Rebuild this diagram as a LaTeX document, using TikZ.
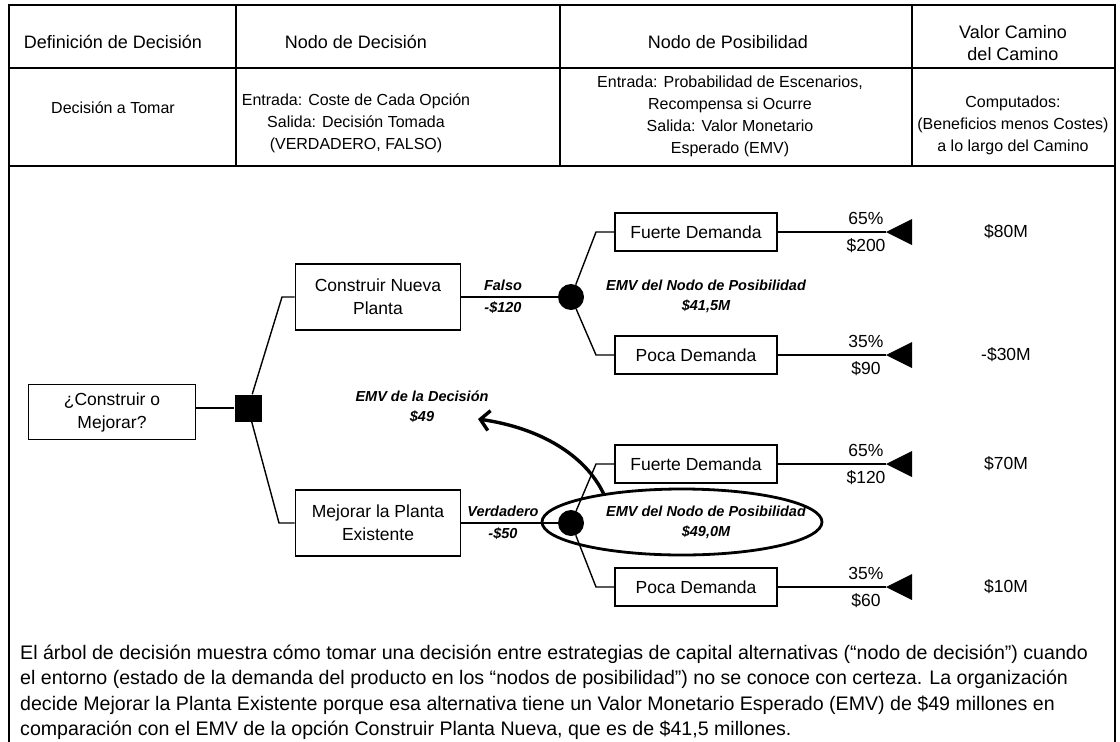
\documentclass[tikz,border=0pt]{standalone}
\usepackage{fontspec}
\setmainfont{Liberation Sans}
\usetikzlibrary{shapes.geometric,arrows.meta}

\newcommand\payofftri[1]{\fill (#1) -- ++(26,-13) -- ++(0,26) -- cycle;}

\begin{document}
\begin{tikzpicture}[x=1pt,y=-1pt,
  rule/.style={line width=2.4pt},
  cell/.style={font=\fontsize{18}{22.5}\selectfont, align=center, inner sep=0pt},
  subcell/.style={cell, font=\fontsize{16}{22}\selectfont},
  stepbox/.style={draw, line width=1.7pt, font=\fontsize{17.5}{23}\selectfont, align=center, inner sep=2pt},
  choice/.style={stepbox, minimum width=165pt, minimum height=66pt},
  outcome/.style={stepbox, minimum width=162pt, minimum height=38pt},
  decnode/.style={fill, minimum size=27pt, inner sep=0pt},
  chancenode/.style={circle, fill, minimum size=26pt, inner sep=0pt},
  link/.style={line width=1.4pt},
  lbl/.style={font=\bfseries\itshape\fontsize{14.5}{20}\selectfont, align=center, inner sep=0pt},
  val/.style={font=\fontsize{17.5}{20}\selectfont, inner sep=0pt},
]
\useasboundingbox (0,0) rectangle (1120,742);

% table frame and the open frame below it
\draw[rule] (9,742) -- (9,5) -- (1115,5) -- (1115,742);
\draw[rule] (9,68) -- (1115,68);
\draw[rule] (9,166) -- (1115,166);
\foreach \x in {236,560,912} \draw[rule] (\x,5) -- (\x,166);

% header cells
\node[cell] (h1) at (113,42) {Definición de Decisión};
\node[cell] (h2) at (356,42) {Nodo de Decisión};
\node[cell] (h3) at (728,42) {Nodo de Posibilidad};
\node[cell] (h4) at (1013,43) {Valor Camino\\del Camino};
\node[subcell] (r1) at (113,108) {Decisión a Tomar};
\node[subcell] (r2) at (356,123) {Entrada: Coste de Cada Opción\\Salida: Decisión Tomada\\(VERDADERO, FALSO)};
\node[subcell] (r3) at (730,116) {Entrada: Probabilidad de Escenarios,\\Recompensa si Ocurre\\Salida: Valor Monetario\\Esperado (EMV)};
\node[subcell] (r4) at (1013,125) {Computados:\\(Beneficios menos Costes)\\a lo largo del Camino};

% tree nodes
\node[choice, minimum width=167pt, minimum height=55pt] (root) at (112,412) {¿Construir o\\Mejorar?};
\node[decnode] (sq) at (248,408) {};
\node[choice] (build) at (378,297) {Construir Nueva\\Planta};
\node[choice] (improve) at (378,523) {Mejorar la Planta\\Existente};
\node[chancenode] (c1) at (571,297) {};
\node[chancenode] (c2) at (571,523) {};
\node[outcome] (f1) at (696,232) {Fuerte Demanda};
\node[outcome] (p1) at (696,355) {Poca Demanda};
\node[outcome] (f2) at (696,464) {Fuerte Demanda};
\node[outcome] (p2) at (696,587) {Poca Demanda};

% elbows and branch ends
\coordinate (eb) at (282,297);
\coordinate (ei) at (279,523);
\coordinate (ef1) at (596,232);
\coordinate (ep1) at (596,355);
\coordinate (ef2) at (596,464);
\coordinate (ep2) at (596,587);
\coordinate (t1) at (886,232);
\coordinate (t2) at (886,355);
\coordinate (t3) at (886,464);
\coordinate (t4) at (886,587);

% connectors
\draw[link] (sq.west -| root.east) -- (sq.west);
\draw[link] (sq) -- (eb) -- (build.west);
\draw[link] (sq) -- (ei) -- (improve.west);
\draw[link] (build.east) -- (c1);
\draw[link] (improve.east) -- (c2);
\draw[link] (c1) -- (ef1) -- (f1.west);
\draw[link] (c1) -- (ep1) -- (p1.west);
\draw[link] (c2) -- (ef2) -- (f2.west);
\draw[link] (c2) -- (ep2) -- (p2.west);
\draw[link] (f1.east) -- (t1);
\draw[link] (p1.east) -- (t2);
\draw[link] (f2.east) -- (t3);
\draw[link] (p2.east) -- (t4);
\payofftri{t1}\payofftri{t2}\payofftri{t3}\payofftri{t4}

% branch labels
\node[lbl] (falso) at (503,285) {Falso};
\node[lbl] (cost1) at (503,308) {-\$120};
\node[lbl] (verd) at (503,511) {Verdadero};
\node[lbl] (cost2) at (503,534) {-\$50};
\node[lbl] (emv1) at (706,296) {EMV del Nodo de Posibilidad\\\$41,5M};
\node[lbl] (emvd) at (422,407) {EMV de la Decisión\\\$49};
\node[lbl] (emv2) at (706,522) {EMV del Nodo de Posibilidad\\\$49,0M};
\node[draw, ellipse, line width=2.8pt, minimum width=280pt, minimum height=66pt, inner sep=0pt] (ell) at (682,522) {};

% probabilities and payoffs
\node[val] (q1) at (866,218) {65\%};
\node[val] (v1) at (866,246) {\$200};
\node[val] (q2) at (866,341) {35\%};
\node[val] (v2) at (866,369) {\$90};
\node[val] (q3) at (866,450) {65\%};
\node[val] (v3) at (866,478) {\$120};
\node[val] (q4) at (866,573) {35\%};
\node[val] (v4) at (866,601) {\$60};

% path values
\node[val] (pv1) at (1006,232) {\$80M};
\node[val] (pv2) at (1006,355) {-\$30M};
\node[val] (pv3) at (1006,464) {\$70M};
\node[val] (pv4) at (1006,587) {\$10M};

% arrow from the chosen chance node to the decision value
\coordinate (dtip) at (478,419);
\draw[line width=3.4pt, -{Straight Barb[length=9pt,width=20pt]}] (ell.160) .. controls (585,455) and (540,428) .. (dtip);

% caption
\node[anchor=north west, align=left, font=\fontsize{19.6}{25.2}\selectfont, inner sep=0pt] (note) at (20,645)
{El árbol de decisión muestra cómo tomar una decisión entre estrategias de capital alternativas (“nodo de decisión”) cuando\\
el entorno (estado de la demanda del producto en los “nodos de posibilidad”) no se conoce con certeza. La organización\\
decide Mejorar la Planta Existente porque esa alternativa tiene un Valor Monetario Esperado (EMV) de \$49 millones en\\
comparación con el EMV de la opción Construir Planta Nueva, que es de \$41,5 millones.};
\end{tikzpicture}
\end{document}
